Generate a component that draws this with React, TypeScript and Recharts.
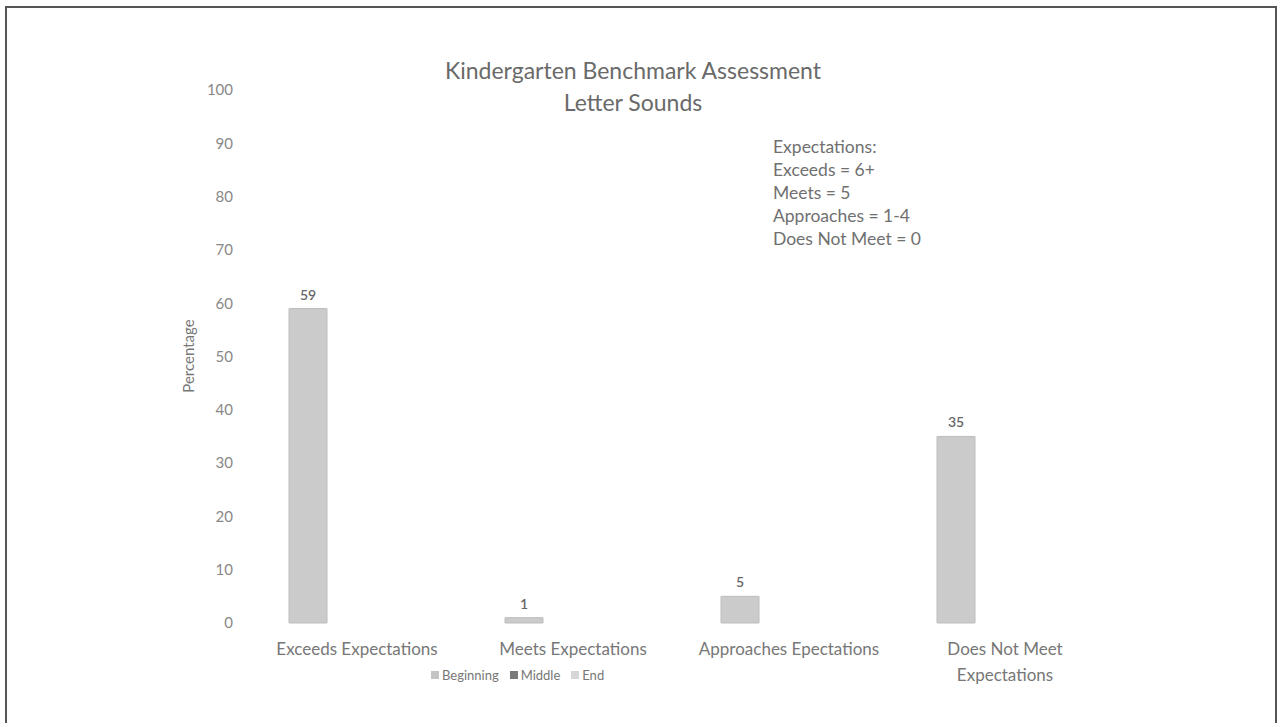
import { Bar, BarChart, LabelList, XAxis, YAxis } from "recharts"

const categories = [
  "Exceeds Expectations",
  "Meets Expectations",
  "Approaches Epectations",
  "Does Not Meet Expectations",
]
const beginning = [59, 1, 5, 35]
const middle: (number | null)[] = [null, null, null, null]
const end: (number | null)[] = [null, null, null, null]
const yTicks = [0, 10, 20, 30, 40, 50, 60, 70, 80, 90, 100]
const notes = ["Expectations:", "Exceeds = 6+", "Meets = 5", "Approaches = 1-4", "Does Not Meet = 0"]
const seriesNames = ["Beginning", "Middle", "End"]
const seriesColors = ["#c4c4c4", "#7a7a7a", "#d6d6d6"]

const FONT = "Lato, 'Open Sans', sans-serif"

function wrapWords(text: string, max: number) {
  const lines: string[] = []
  let cur = ""
  for (const w of text.split(" ")) {
    const next = cur ? cur + " " + w : w
    if (next.length > max && cur) {
      lines.push(cur)
      cur = w
    } else cur = next
  }
  if (cur) lines.push(cur)
  return lines
}

function CategoryTick({ x, y, payload }: any) {
  const lines = wrapWords(String(payload.value), 22)
  return (
    <text x={x} y={y} textAnchor="middle" fill="#777" fontSize={17} fontFamily={FONT}>
      {lines.map((l, i) => (
        <tspan key={i} x={x} dy={i === 0 ? "0.71em" : 26}>
          {l}
        </tspan>
      ))}
    </text>
  )
}

export default function App() {
  const data = categories.map((c, i) => ({
    name: c,
    beginning: beginning[i],
    middle: middle[i],
    end: end[i],
  }))

  return (
    <div style={{ position: "fixed", left: 0, top: 0, width: 1283, height: 723, background: "#fff", fontFamily: FONT }}>
      <div
        style={{
          position: "absolute",
          left: 5,
          top: 6,
          width: 1272,
          height: 760,
          border: "2px solid #555",
          boxSizing: "border-box",
        }}
      />
      <div style={{ position: "absolute", left: 0, width: 1266, top: 54, textAlign: "center", color: "#6a6a6a", fontSize: 23, lineHeight: "32px" }}>
        Kindergarten Benchmark Assessment
        <br />
        Letter Sounds
      </div>
      <div style={{ position: "absolute", left: 773, top: 135, color: "#707070", fontSize: 17.5, lineHeight: "23px" }}>
        {notes.map((n) => (
          <div key={n}>{n}</div>
        ))}
      </div>
      <div
        style={{
          position: "absolute",
          left: 188,
          top: 356,
          transform: "translate(-50%, -50%) rotate(-90deg)",
          color: "#777",
          fontSize: 15,
          whiteSpace: "nowrap",
        }}
      >
        Percentage
      </div>
      <div style={{ position: "absolute", left: 431, top: 666, display: "flex", fontSize: 13, color: "#777", lineHeight: "18px" }}>
        {seriesNames.map((n, i) => (
          <div key={n} style={{ display: "flex", alignItems: "center", marginRight: 11 }}>
            <span style={{ width: 8, height: 8, background: seriesColors[i], marginRight: 3, display: "inline-block" }} />
            {n}
          </div>
        ))}
      </div>
      <BarChart
        width={1283}
        height={723}
        data={data}
        margin={{ top: 90, right: 170, bottom: 70, left: 189 }}
        barSize={38}
        barGap={11}
        style={{ position: "absolute", left: 0, top: 0 }}
      >
        <XAxis
          dataKey="name"
          height={30}
          axisLine={false}
          tickLine={false}
          tickSize={0}
          tickMargin={20}
          interval={0}
          tick={<CategoryTick />}
        />
        <YAxis
          width={60}
          domain={[0, 100]}
          ticks={yTicks}
          axisLine={false}
          tickLine={false}
          tickSize={0}
          tickMargin={16}
          tick={{ fill: "#888", fontSize: 15, fontFamily: FONT }}
        />
        <Bar dataKey="beginning" name={seriesNames[0]} fill="#cbcbcb" stroke="#bdbdbd" isAnimationActive={false}>
          <LabelList dataKey="beginning" position="top" offset={9} fill="#666" fontSize={14} fontWeight={600} fontFamily={FONT} />
        </Bar>
        <Bar dataKey="middle" name={seriesNames[1]} fill={seriesColors[1]} isAnimationActive={false} />
        <Bar dataKey="end" name={seriesNames[2]} fill={seriesColors[2]} isAnimationActive={false} />
      </BarChart>
    </div>
  )
}
